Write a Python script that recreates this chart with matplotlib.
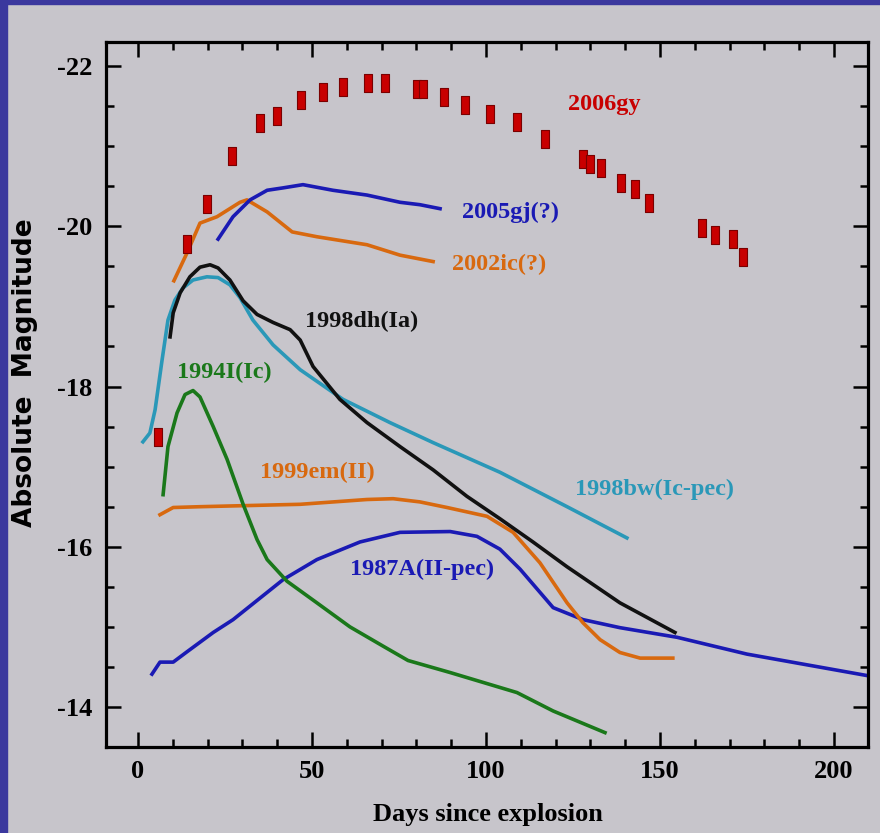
import numpy as np
import matplotlib
matplotlib.use('Agg')
import matplotlib.pyplot as plt
from matplotlib.path import Path
from matplotlib.patches import Rectangle
from matplotlib.ticker import MultipleLocator

# 2006gy photometry (red squares)
gy_days = [5.7, 14.1, 19.8, 27.0, 35.1, 39.9, 46.8, 53.2, 58.9, 66.1, 71.0,
           80.2, 82.0, 87.9, 94.0, 101.1, 108.9, 117.0, 127.9, 129.9, 133.0,
           138.8, 142.8, 146.8, 162.1, 165.8, 171.0, 173.9]
gy_mag = [-17.37, -19.78, -20.28, -20.88, -21.29, -21.38, -21.58, -21.68, -21.74,
          -21.79, -21.79, -21.71, -21.71, -21.61, -21.51, -21.40, -21.30, -21.09,
          -20.84, -20.78, -20.73, -20.54, -20.47, -20.29, -19.98, -19.89, -19.84,
          -19.62]

# 2005gj
gj_days = [23.0, 27.3, 32.2, 37.1, 41.7, 47.4, 56.0, 65.8, 75.3, 81.0, 86.8]
gj_mag = [-19.84, -20.12, -20.33, -20.45, -20.48, -20.52, -20.45, -20.39, -20.30,
          -20.27, -20.22]

# 2002ic
ic_days = [10.3, 14.1, 17.8, 22.7, 29.3, 31.3, 37.1, 44.3, 51.4, 65.8, 75.3, 84.8]
ic_mag = [-19.32, -19.67, -20.04, -20.12, -20.30, -20.33, -20.18, -19.93, -19.87,
          -19.77, -19.64, -19.56]

# 1998dh (Ia)
dh_days = [9.2, 10.1, 12.1, 14.9, 17.8, 20.7, 23.0, 26.4, 30.2, 34.2, 38.8, 43.7,
           46.6, 50.3, 58.0, 65.8, 75.3, 84.8, 94.5, 104.0, 113.5, 123.3, 138.5, 154.3]
dh_mag = [-18.62, -18.92, -19.17, -19.37, -19.49, -19.52, -19.48, -19.33, -19.07,
          -18.90, -18.80, -18.71, -18.58, -18.25, -17.84, -17.55, -17.25, -16.96,
          -16.63, -16.35, -16.06, -15.75, -15.30, -14.93]

# 1998bw (Ic-pec)
bw_days = [1.4, 3.4, 4.9, 6.9, 8.6, 10.6, 12.9, 15.8, 19.8, 23.0, 26.4, 29.3, 33.0,
           38.8, 46.6, 58.9, 72.4, 84.8, 104.0, 123.3, 140.5]
bw_mag = [-17.31, -17.42, -17.71, -18.33, -18.83, -19.08, -19.23, -19.33, -19.37,
          -19.36, -19.27, -19.11, -18.83, -18.52, -18.21, -17.84, -17.55, -17.30,
          -16.93, -16.50, -16.11]

# 1994I (Ic)
i94_days = [7.2, 8.6, 11.2, 13.5, 15.8, 17.8, 21.6, 25.6, 30.2, 34.2, 37.1, 42.8,
            51.4, 60.9, 70.4, 77.6, 89.7, 108.9, 119.3, 134.2]
i94_mag = [-16.65, -17.25, -17.67, -17.90, -17.95, -17.87, -17.50, -17.09, -16.53,
           -16.09, -15.84, -15.57, -15.30, -15.00, -14.76, -14.58, -14.43, -14.18,
           -13.95, -13.68]

# 1999em (II)
em_days = [6.3, 10.1, 17.8, 46.6, 65.8, 73.3, 81.0, 88.8, 100.3, 107.8, 115.5,
           123.3, 127.9, 132.8, 138.5, 144.3, 153.7]
em_mag = [-16.40, -16.49, -16.50, -16.53, -16.59, -16.60, -16.56, -16.49, -16.38,
          -16.18, -15.80, -15.30, -15.05, -14.84, -14.68, -14.61, -14.61]

# 1987A (II-pec)
sn87_days = [4.0, 6.3, 10.1, 14.1, 21.6, 27.3, 41.7, 51.4, 63.8, 75.3, 89.7, 97.4,
             104.0, 109.8, 119.3, 127.9, 138.5, 154.9, 175.0, 209.8]
sn87_mag = [-14.41, -14.56, -14.56, -14.69, -14.93, -15.09, -15.59, -15.84, -16.06,
            -16.18, -16.19, -16.13, -15.97, -15.72, -15.24, -15.09, -14.99, -14.87,
            -14.66, -14.39]

RED = '#c80000'
BLUE = '#1a1ab4'
ORANGE = '#d8690f'
BLACK = '#111111'
TEAL = '#2a98b8'
GREEN = '#1a781a'
BG = '#c7c5cb'

plt.rcParams['font.family'] = ['Liberation Serif', 'DejaVu Serif']
plt.rcParams['font.weight'] = 'bold'
plt.rcParams['axes.unicode_minus'] = False

fig = plt.figure(figsize=(8.8, 8.33), dpi=100, facecolor=BG)
ax = fig.add_axes([0.1205, 0.1032, 0.8659, 0.8463])
ax.set_facecolor(BG)

# blue frame strips (top and left)
fig.patches.append(Rectangle((0, 1 - 4 / 833), 1, 4 / 833, transform=fig.transFigure,
                             color='#3b389e', zorder=0))
fig.patches.append(Rectangle((0, 0), 7 / 880, 1, transform=fig.transFigure,
                             color='#3b389e', zorder=0))

lw = 2.6
ax.plot(sn87_days, sn87_mag, color=BLUE, lw=lw)
ax.plot(em_days, em_mag, color=ORANGE, lw=lw)
ax.plot(i94_days, i94_mag, color=GREEN, lw=lw)
ax.plot(bw_days, bw_mag, color=TEAL, lw=lw)
ax.plot(dh_days, dh_mag, color=BLACK, lw=lw)
ax.plot(ic_days, ic_mag, color=ORANGE, lw=lw)
ax.plot(gj_days, gj_mag, color=BLUE, lw=lw)

rect = Path([(-0.44, -1), (0.44, -1), (0.44, 1), (-0.44, 1), (-0.44, -1)],
            [Path.MOVETO, Path.LINETO, Path.LINETO, Path.LINETO, Path.CLOSEPOLY])
ax.plot(gy_days, gy_mag, ls='none', marker=rect, ms=13, mfc=RED, mec='#7a0000',
        mew=0.8, zorder=5)

fs = 17.5
ax.text(123.6, -21.52, '2006gy', color=RED, fontsize=fs, va='center')
ax.text(93.1, -20.17, '2005gj(?)', color=BLUE, fontsize=fs, va='center')
ax.text(90.2, -19.52, '2002ic(?)', color=ORANGE, fontsize=fs, va='center')
ax.text(48.0, -18.81, '1998dh(Ia)', color=BLACK, fontsize=fs, va='center')
ax.text(11.2, -18.18, '1994I(Ic)', color=GREEN, fontsize=fs, va='center')
ax.text(35.1, -16.93, '1999em(II)', color=ORANGE, fontsize=fs, va='center')
ax.text(125.6, -16.71, '1998bw(Ic-pec)', color=TEAL, fontsize=fs, va='center')
ax.text(60.9, -15.72, '1987A(II-pec)', color=BLUE, fontsize=fs, va='center')

ax.set_xlim(-9.2, 209.8)
ax.set_ylim(-13.5, -22.3)
ax.xaxis.set_major_locator(MultipleLocator(50))
ax.xaxis.set_minor_locator(MultipleLocator(10))
ax.yaxis.set_major_locator(MultipleLocator(2))
ax.yaxis.set_minor_locator(MultipleLocator(0.5))
ax.tick_params(which='both', direction='in', top=True, right=True, width=1.8,
               color='black', labelsize=19)
ax.tick_params(which='major', length=10.5)
ax.tick_params(which='minor', length=5.5)
ax.tick_params(axis='y', pad=10)
ax.tick_params(axis='x', pad=9)
for s in ax.spines.values():
    s.set_linewidth(2.3)

fig.text(0.555, 0.022, 'Days since explosion', fontsize=19, ha='center', va='center')
fig.text(0.028, 0.553, 'Absolute  Magnitude', fontsize=19, ha='center', va='center',
         rotation=90, family='DejaVu Sans', fontweight='bold')

fig.savefig('out.png', dpi=100, facecolor=BG)
